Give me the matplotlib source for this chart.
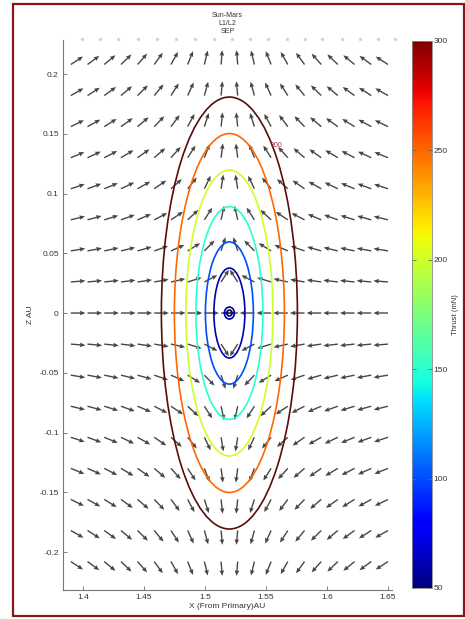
import numpy as np
import matplotlib
matplotlib.use("Agg")
import matplotlib.pyplot as plt
from matplotlib.patches import Ellipse, Rectangle
from matplotlib import cm, colors

plt.rcParams["font.family"] = ["Liberation Sans", "DejaVu Sans"]

# thrust contours around Mars (x = 1.52 AU), full widths/heights in AU
mars_x = 1.52
levels = [300, 250, 200, 150, 100, 60, 55, 50]
widths = [0.1115, 0.0902, 0.0713, 0.0549, 0.0393, 0.0254, 0.0082, 0.0042]
heights = [0.3615, 0.3004, 0.2393, 0.1780, 0.1190, 0.0753, 0.0100, 0.0050]

# quiver grid
grid_x = [1.3900, 1.4037, 1.4174, 1.4311, 1.4447, 1.4584, 1.4721, 1.4858,
          1.4995, 1.5132, 1.5268, 1.5405, 1.5542, 1.5679, 1.5816, 1.5953,
          1.6089, 1.6226, 1.6363, 1.6500]
grid_z = [-0.208, -0.182, -0.156, -0.130, -0.104, -0.078, -0.052, -0.026, 0.0,
          0.026, 0.052, 0.078, 0.104, 0.130, 0.156, 0.182, 0.208]
x_gain = 2.4          # radial (x) weight of the hover thrust direction
arrow_len = 0.012     # normalised arrow length, AU

# faint marker row along the top
dots_x = [1.399, 1.414, 1.429, 1.445, 1.461, 1.476, 1.492, 1.507, 1.522,
          1.537, 1.552, 1.567, 1.582, 1.596, 1.612, 1.627, 1.642, 1.656]
dots_z = 0.229

xticks = [1.4, 1.45, 1.5, 1.55, 1.6, 1.65]
yticks = [-0.2, -0.15, -0.1, -0.05, 0, 0.05, 0.1, 0.15, 0.2]
yticklabels = ["-0.2", "-0.15", "-0.1", "-0.05", "0", "0.05", "0.1", "0.15", "0.2"]
cbar_ticks = [50, 100, 150, 200, 250, 300]

txt = "#333333"
fig = plt.figure(figsize=(4.65, 6.19), dpi=100)
ax = fig.add_axes([63 / 465, 29 / 619, 329 / 465, 550 / 619])
cax = fig.add_axes([412 / 465, 31 / 619, 20 / 465, 547 / 619])

norm = colors.Normalize(vmin=50, vmax=300)
cmap = cm.jet

# arrows: thrust direction needed to hover
X, Z = np.meshgrid(grid_x, grid_z)
U = -x_gain * (X - mars_x)
V = Z.copy()
mag = np.hypot(U, V)
mag[mag == 0] = 1
U = U / mag * arrow_len
V = V / mag * arrow_len
ax.quiver(X, Z, U, V, angles="xy", scale_units="xy", scale=1,
          color="#262626", width=0.0042, headwidth=3.4, headlength=4.0,
          headaxislength=3.6, alpha=0.85, zorder=2)

ax.scatter(dots_x, [dots_z] * len(dots_x), s=2, color="#d4d4d4",
           clip_on=False, zorder=1)

for lev, w, h in zip(levels, widths, heights):
    c = cmap(norm(lev))
    if lev == 300:
        c = "#5a0c0c"
    ax.add_patch(Ellipse((mars_x, 0), w, h, fill=False,
                         edgecolor=c, lw=1.2, zorder=3))

ax.text(1.559, 0.1406, "300", fontsize=5, color="#b03048",
        ha="center", va="center", zorder=4)

ax.set_xlim(1.3836, 1.6533)
ax.set_ylim(-0.2318, 0.2285)
ax.set_xticks(xticks)
ax.set_xticklabels([f"{t:g}" for t in xticks])
ax.set_yticks(yticks)
ax.set_yticklabels(yticklabels)
ax.tick_params(direction="in", length=3, width=0.6, labelsize=6,
               colors="#666666", labelcolor=txt, pad=3)
for s in ["top", "right"]:
    ax.spines[s].set_visible(False)
for s in ["left", "bottom"]:
    ax.spines[s].set_color("#777777")
    ax.spines[s].set_linewidth(0.8)

ax.set_xlabel("X (From Primary)AU", fontsize=6, color=txt, labelpad=1)
ax.set_ylabel("Z AU", fontsize=6, color=txt, labelpad=4)
ax.set_title("Sun-Mars\nL1/L2\nSEP", fontsize=5, color=txt,
             linespacing=1.25, pad=5)

sm = cm.ScalarMappable(norm=norm, cmap=cmap)
cb = fig.colorbar(sm, cax=cax, ticks=cbar_ticks)
cb.outline.set_edgecolor("#888888")
cb.outline.set_linewidth(0.6)
cb.ax.tick_params(direction="in", length=3, width=0.6, labelsize=6,
                  colors="#666666", labelcolor=txt, left=True, right=True, pad=1)
cb.set_label("Thrust (mN)", fontsize=5.5, color=txt, labelpad=3)

fig.patches.append(Rectangle((13 / 465, 3 / 619), 451 / 465, 612 / 619,
                             transform=fig.transFigure, fill=False,
                             edgecolor="#8b1414", lw=1.6))

fig.savefig("out.png", dpi=100, facecolor="white")
